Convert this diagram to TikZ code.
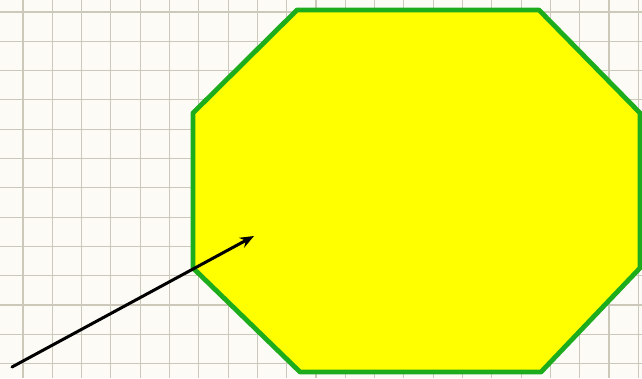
\documentclass[tikz,border=0pt]{standalone}
\usetikzlibrary{arrows.meta}
\definecolor{paper}{RGB}{252,251,246}
\definecolor{gridline}{RGB}{205,201,186}
\definecolor{octgreen}{RGB}{28,172,28}
\definecolor{octyellow}{RGB}{255,255,0}

\begin{document}
\begin{tikzpicture}[
  x=1pt,
  y=-1pt,
  line join=round,
  line cap=round,
  gridrule/.style={draw=gridline,line width=1.1pt,line cap=butt},
  outline/.style={draw=octgreen,fill=octyellow,line width=4.8pt},
  pointer/.style={draw=black,line width=3pt,-{Stealth[length=14pt,width=11pt]}}
]
  % Page and clip.
  \useasboundingbox (0,0) rectangle (642,378);
  \clip (0,0) rectangle (642,378);
  \fill[paper] (0,0) rectangle (642,378);

  % Squared paper.
  \foreach \gx in {0,...,21} {
    \draw[gridrule] ({23+29.3*\gx},0) -- ({23+29.3*\gx},378);
  }
  \foreach \gy in {0,...,12} {
    \draw[gridrule] (0,{12+29.3*\gy}) -- (642,{12+29.3*\gy});
  }

  % Octagon corners.
  \coordinate (o1) at (297,10);
  \coordinate (o2) at (539,10);
  \coordinate (o3) at (640,113);
  \coordinate (o4) at (640,268);
  \coordinate (o5) at (541,372);
  \coordinate (o6) at (300,372);
  \coordinate (o7) at (193,268);
  \coordinate (o8) at (193,113);

  \draw[outline] (o1) -- (o2) -- (o3) -- (o4) -- (o5) -- (o6) -- (o7) -- (o8) -- cycle;

  % Arrow into the octagon.
  \coordinate (tail) at (12,367);
  \coordinate (tip) at (254,236);
  \draw[pointer] (tail) -- (tip);
\end{tikzpicture}
\end{document}
